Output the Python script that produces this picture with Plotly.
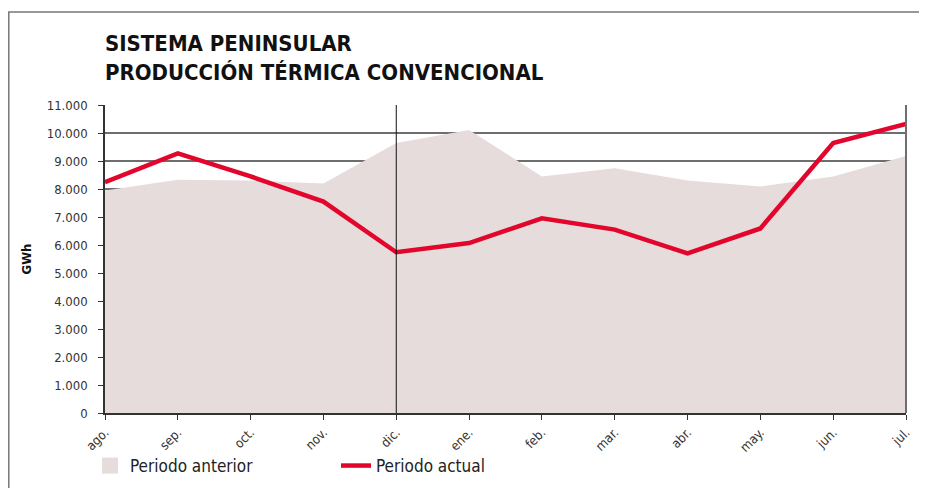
import plotly.graph_objects as go

months = ["ago.", "sep.", "oct.", "nov.", "dic.", "ene.", "feb.", "mar.", "abr.", "may.", "jun.", "jul."]
periodo_anterior = [7950, 8330, 8300, 8200, 9640, 10110, 8450, 8740, 8300, 8090, 8450, 9180]
periodo_actual = [8240, 9270, 8450, 7550, 5740, 6070, 6950, 6550, 5700, 6590, 9640, 10320]
y_ticks = list(range(0, 11001, 1000))

FONT = "Liberation Sans Narrow, Arial Narrow, DejaVu Sans Condensed, sans-serif"
FILL = "#e6dcdb"
RED = "#e2062c"

# page body adds an 8px offset; figure sized to fit the 927x488 window
W, H = 919, 480
ML, MR, MT, MB = 97, 21, 97, 75

fig = go.Figure()
fig.add_trace(go.Scatter(
    x=months, y=periodo_anterior, mode="lines", fill="tozeroy",
    fillcolor=FILL, line=dict(width=0, color=FILL), showlegend=False,
    name="Periodo anterior", hoverinfo="x+y"))
# legend swatch for area
fig.add_trace(go.Scatter(
    x=[None], y=[None], mode="markers", name="Periodo anterior",
    marker=dict(symbol="square", size=18, color=FILL)))
fig.add_trace(go.Scatter(
    x=months, y=periodo_actual, mode="lines", name="Periodo actual",
    line=dict(color=RED, width=4.5)))

fig.add_shape(type="line", xref="x", yref="paper", x0=4, x1=4, y0=0, y1=1,
              line=dict(color="#111111", width=1), layer="above")
# outer frame (left and top edges)
pw, ph = W - ML - MR, H - MT - MB
fx = (0.8 - ML) / pw
fy = (H - MB - 4) / ph
fig.add_shape(type="path", xref="paper", yref="paper",
              path=f"M {fx},-0.5 L {fx},{fy} L 1.2,{fy}",
              line=dict(color="#777777", width=1.5), layer="above")
# right border of plot area
fig.add_shape(type="line", xref="paper", yref="paper", x0=1, x1=1, y0=0, y1=1,
              line=dict(color="#6e6e6e", width=2), layer="above")

fig.update_layout(
    width=W, height=H,
    margin=dict(l=ML, r=MR, t=MT, b=MB, autoexpand=False),
    paper_bgcolor="white", plot_bgcolor="white",
    separators=",.",
    font=dict(family=FONT, size=13, color="#333333"),
    title=dict(text="<b>SISTEMA PENINSULAR<br>PRODUCCIÓN TÉRMICA CONVENCIONAL</b>",
               x=ML / W, xanchor="left", y=1 - 43 / H, yanchor="top",
               font=dict(family=FONT, size=22, color="#111111")),
    xaxis=dict(type="category", categoryorder="array", categoryarray=months,
               range=[0, 11], showgrid=False, showline=True, linecolor="#333333",
               linewidth=1.5, ticks="outside", ticklen=5, tickcolor="#333333",
               tickangle=-45, tickfont=dict(size=13, color="#333333"),
               mirror=False, zeroline=False, automargin=False),
    yaxis=dict(range=[0, 11000], tickvals=y_ticks, tickformat=",d",
               showgrid=True, gridcolor="#6e6e6e", gridwidth=1.5,
               showline=True, linecolor="#333333", linewidth=1.5,
               ticks="outside", ticklen=5, tickcolor="#333333",
               ticklabelstandoff=8,
               tickfont=dict(size=13, color="#333333"), zeroline=False,
               automargin=False,
               title=dict(text="<b>GWh</b>", font=dict(size=13, color="#111111"), standoff=12)),
    legend=dict(orientation="h", xref="container", x=82 / W, xanchor="left",
                yref="container", y=1 - 440 / H, yanchor="top",
                font=dict(size=17, color="#222222"), entrywidth=201, entrywidthmode="pixels",
                bgcolor="rgba(0,0,0,0)", traceorder="normal"),
)

fig.write_html("out.html")
